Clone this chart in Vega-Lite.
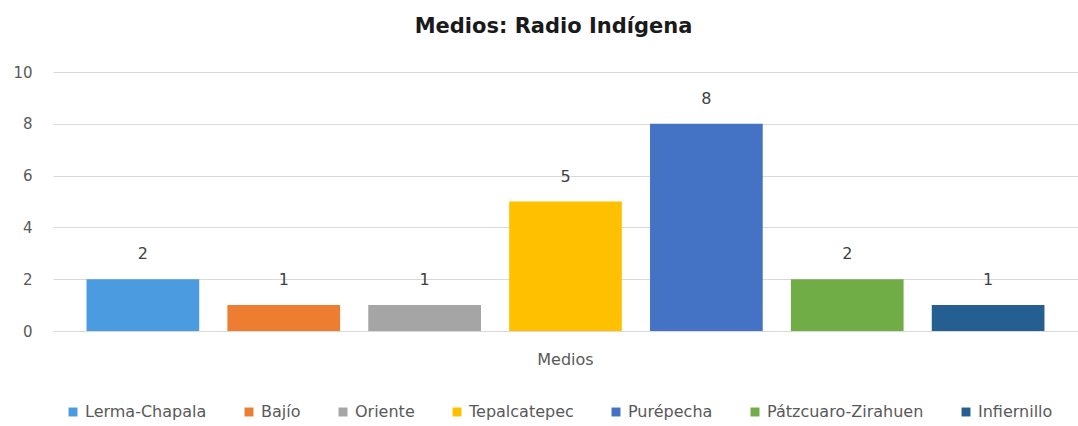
{
  "$schema": "https://vega.github.io/schema/vega-lite/v6.json",
  "width": 1078,
  "height": 426,
  "autosize": {"type": "fit", "contains": "padding"},
  "padding": {"left": 12, "right": 0, "top": 16, "bottom": 6},
  "background": "white",
  "config": {"font": "DejaVu Sans", "view": {"stroke": null}},
  "title": {"text": "Medios: Radio Indígena", "fontSize": 21, "fontWeight": "bold", "color": "#1a1a1a", "font": "DejaVu Sans", "offset": 28, "dx": -12},
  "data": {"values": [
    {"cat": "Medios", "serie": "Lerma-Chapala", "valor": 2},
    {"cat": "Medios", "serie": "Bajío", "valor": 1},
    {"cat": "Medios", "serie": "Oriente", "valor": 1},
    {"cat": "Medios", "serie": "Tepalcatepec", "valor": 5},
    {"cat": "Medios", "serie": "Purépecha", "valor": 8},
    {"cat": "Medios", "serie": "Pátzcuaro-Zirahuen", "valor": 2},
    {"cat": "Medios", "serie": "Infiernillo", "valor": 1}
  ]},
  "encoding": {
    "x": {"field": "cat", "type": "nominal", "scale": {"paddingInner": 0, "paddingOuter": 0.035},
      "axis": {"title": null, "labelAngle": 0, "labelFontSize": 16, "labelColor": "#595959", "ticks": false, "domain": false, "labelPadding": 20}},
    "xOffset": {"field": "serie", "type": "nominal", "sort": null, "scale": {"paddingInner": 0.2, "paddingOuter": 0}},
    "y": {"field": "valor", "type": "quantitative", "scale": {"domain": [0, 10]},
      "axis": {"title": null, "values": [0, 2, 4, 6, 8, 10], "labelFontSize": 15, "labelColor": "#595959", "ticks": false, "domain": false, "gridColor": "#d9d9d9", "labelPadding": 21}}
  },
  "layer": [
    {"mark": {"type": "bar"},
     "encoding": {"color": {"field": "serie", "type": "nominal", "sort": null,
       "scale": {"range": ["#4a9be0", "#ed7d31", "#a5a5a5", "#ffc000", "#4472c4", "#70ad47", "#255e91"]},
       "legend": {"orient": "bottom", "direction": "horizontal", "title": null, "labelFontSize": 16, "labelColor": "#595959", "symbolType": "square", "symbolSize": 80, "symbolOffset": 12, "labelOffset": 4, "columnPadding": 22, "offset": 37}}}},
    {"mark": {"type": "text", "dy": -25, "fontSize": 16, "color": "#404040"},
     "encoding": {"text": {"field": "valor", "type": "quantitative"}}}
  ]
}
